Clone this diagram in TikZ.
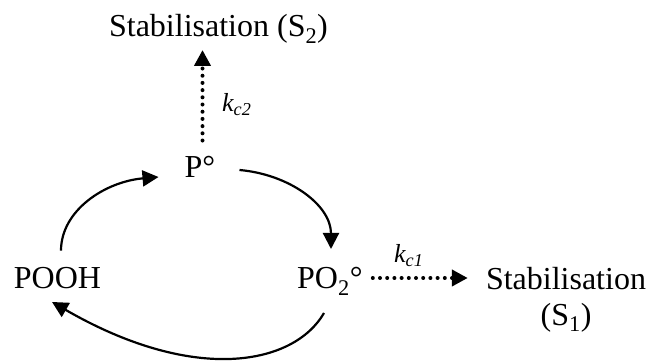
\documentclass[tikz,border=0pt]{standalone}
\usepackage{fontspec}
\setmainfont{Liberation Serif}
\usetikzlibrary{arrows.meta}
\begin{document}
\begin{tikzpicture}[x=1pt,y=1pt,
  lbl/.style={inner sep=0pt, font=\fontsize{32}{36}\selectfont},
  rate/.style={inner sep=0pt, font=\fontsize{26}{30}\selectfont\itshape},
  flow/.style={line width=2.2pt, -{Triangle[length=16pt,width=16pt]}},
  dotflow/.style={line width=4pt, line cap=round, dash pattern=on 0pt off 7.2pt, -{Triangle[length=16pt,width=16pt]}}]
\useasboundingbox (0,0) rectangle (648,361);
\node[lbl,anchor=base] (s2) at (218.5,324) {Stabilisation (S\textsubscript{2})};
\node[lbl,anchor=base] (p) at (200,183) {P°};
\node[lbl,anchor=base] (pooh) at (57.5,72) {POOH};
\node[lbl,anchor=base west] (po) at (297,72) {PO\textsubscript{2}°};
\node[lbl,align=center] (s1) at (566,61) {Stabilisation\\(S\textsubscript{1})};
\node[rate,anchor=base west] (kc2) at (222,249) {k\textsubscript{c2}};
\node[rate,anchor=base west] (kc1) at (394,98) {k\textsubscript{c1}};
\draw[dotflow] ([xshift=2.5pt,yshift=16pt]p.north) -- ([xshift=2.5pt,yshift=-13pt]p.north |- s2.base);
\draw[dotflow] ([xshift=10pt,yshift=11pt]po.base east) coordinate (h) -- ([xshift=-18pt]s1.west |- h);
\draw[flow] ([xshift=3.5pt,yshift=17pt]pooh.north) to[out=90,in=185,out distance=40pt,in distance=54pt] ([xshift=-26pt,yshift=1pt]p.base west);
\draw[flow] ([xshift=24pt,yshift=8pt]p.base east) to[out=-5,in=90,out distance=50pt,in distance=44pt] ([xshift=34pt,yshift=40pt]po.base west);
\draw[flow] ([xshift=27pt,yshift=-24pt]po.base west) to[out=-120,in=-30,out distance=60pt,in distance=165pt] ([xshift=-5.5pt,yshift=-13pt]pooh.base);
\end{tikzpicture}
\end{document}
